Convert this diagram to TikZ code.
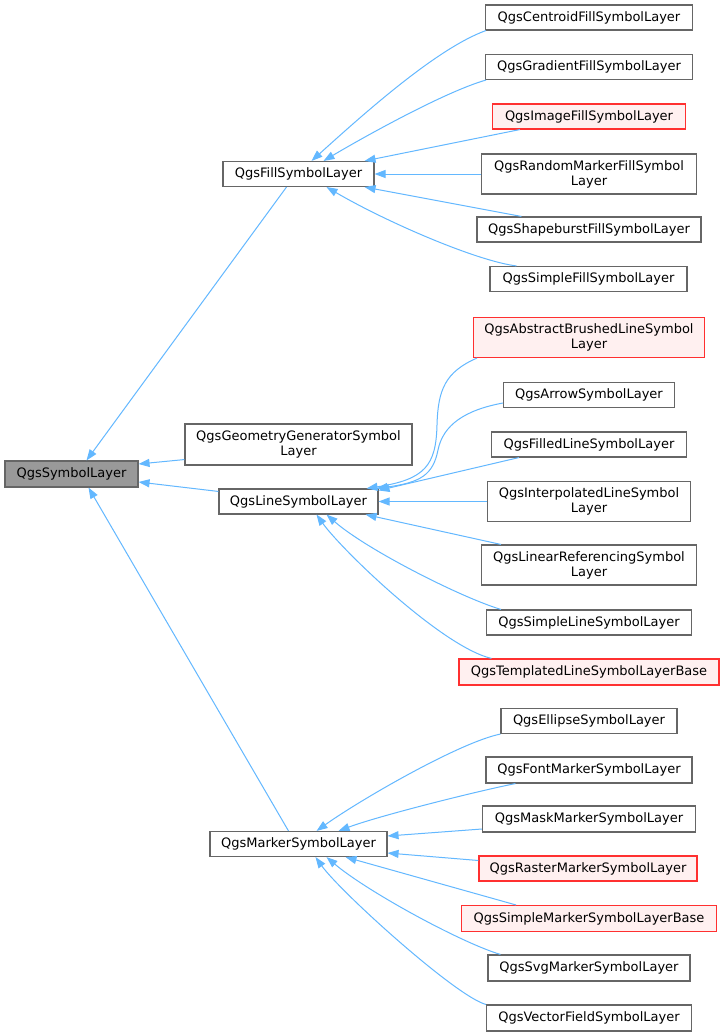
\documentclass[tikz,border=0pt]{standalone}
\usepackage{fontspec}
\setmainfont{DejaVu Sans}
\usetikzlibrary{arrows.meta}
\definecolor{edgec}{HTML}{63B8FF}
\definecolor{bordc}{HTML}{666666}
\definecolor{redfill}{HTML}{FFF0F0}
\definecolor{grayfill}{HTML}{999999}
\definecolor{redborder}{HTML}{FF3030}
\begin{document}
\begin{tikzpicture}[x=1pt,y=-1pt,
 cls/.style={draw=bordc, line width=1.1pt, fill=white, rectangle, inner sep=0pt, align=center, font=\fontsize{13}{15}\selectfont},
 redcls/.style={cls, draw=redborder, fill=redfill},
 basecls/.style={cls, fill=grayfill},
 edge/.style={draw=edgec, line width=1pt, -{Triangle[length=11pt,width=8pt]}},
]
\fill[white] (0,0) rectangle (724,1036);
\useasboundingbox (0,0) rectangle (724,1036);

% middle / left column
\node[basecls, minimum width=133pt, minimum height=26pt] (sym) at (71.5,474) {QgsSymbolLayer};
\node[cls, minimum width=151pt, minimum height=25pt] (fill) at (298.5,174) {QgsFillSymbolLayer};
\node[cls, minimum width=227pt, minimum height=41pt] (geom) at (298.5,444.5) {QgsGeometryGeneratorSymbol\\Layer};
\node[cls, minimum width=159pt, minimum height=25pt] (line) at (298.5,501.5) {QgsLineSymbolLayer};
\node[cls, minimum width=177pt, minimum height=25pt] (marker) at (298.5,844) {QgsMarkerSymbolLayer};

% right column
\node[cls, minimum width=207pt, minimum height=25pt] (centroid) at (589,17.5) {QgsCentroidFillSymbolLayer};
\node[cls, minimum width=207pt, minimum height=25pt] (gradient) at (589,67) {QgsGradientFillSymbolLayer};
\node[redcls, minimum width=193pt, minimum height=25pt] (image) at (589,116.5) {QgsImageFillSymbolLayer};
\node[cls, minimum width=215pt, minimum height=40pt] (random) at (589,174) {QgsRandomMarkerFillSymbol\\Layer};
\node[cls, minimum width=224pt, minimum height=25pt] (shapeburst) at (589,229.5) {QgsShapeburstFillSymbolLayer};
\node[cls, minimum width=197pt, minimum height=25pt] (simplefill) at (588.5,279) {QgsSimpleFillSymbolLayer};
\node[redcls, minimum width=231pt, minimum height=40pt] (abstract) at (589,337.5) {QgsAbstractBrushedLineSymbol\\Layer};
\node[cls, minimum width=171pt, minimum height=25pt] (arrow) at (589,395) {QgsArrowSymbolLayer};
\node[cls, minimum width=195pt, minimum height=25pt] (filled) at (589,444.5) {QgsFilledLineSymbolLayer};
\node[cls, minimum width=203pt, minimum height=40pt] (interp) at (589,501.5) {QgsInterpolatedLineSymbol\\Layer};
\node[cls, minimum width=215pt, minimum height=40pt] (linref) at (589,565) {QgsLinearReferencingSymbol\\Layer};
\node[cls, minimum width=205pt, minimum height=25pt] (simpleline) at (589,622.5) {QgsSimpleLineSymbolLayer};
\node[redcls, minimum width=260pt, minimum height=26pt] (templated) at (589,672) {QgsTemplatedLineSymbolLayerBase};
\node[cls, minimum width=176pt, minimum height=25pt] (ellipse) at (589,721) {QgsEllipseSymbolLayer};
\node[cls, minimum width=206pt, minimum height=26pt] (font) at (589,770) {QgsFontMarkerSymbolLayer};
\node[cls, minimum width=213pt, minimum height=26pt] (mask) at (589,819) {QgsMaskMarkerSymbolLayer};
\node[redcls, minimum width=218pt, minimum height=25pt] (raster) at (588,868.5) {QgsRasterMarkerSymbolLayer};
\node[redcls, minimum width=255pt, minimum height=26pt] (smb) at (589,918.5) {QgsSimpleMarkerSymbolLayerBase};
\node[cls, minimum width=202pt, minimum height=26pt] (svg) at (589,968) {QgsSvgMarkerSymbolLayer};
\node[cls, minimum width=205pt, minimum height=26pt] (vector) at (589,1018) {QgsVectorFieldSymbolLayer};

% bend points
\coordinate (abbend) at (437,425);
\coordinate (arbend) at (438,450);

% fill children
\draw[edge] ([xshift=1pt]centroid.south west) .. controls +(-50,18) and +(50,-45) .. ([xshift=13pt]fill.north);
\draw[edge] ([xshift=1pt]gradient.south west) .. controls +(-42,12) and +(37,-22) .. ([xshift=25pt]fill.north);
\draw[edge] ([xshift=28pt]image.south west) -- ([xshift=-10pt]fill.north east);
\draw[edge] (random.west) -- (fill.east);
\draw[edge] ([xshift=45pt]shapeburst.north west) -- ([xshift=-10pt]fill.south east);
\draw[edge] ([xshift=27pt]simplefill.north west) .. controls +(-40,-5) and +(60,35) .. ([xshift=28pt]fill.south);

% to base
\draw[edge] ([xshift=-12pt]fill.south) -- ([xshift=15pt]sym.north);
\draw[edge] ([yshift=6pt]geom.south west) -- ([yshift=10pt]sym.east);
\draw[edge] ([yshift=-3pt]line.north west) -- ([yshift=-8pt]sym.east);
\draw[edge] ([xshift=-10pt]marker.north) -- ([xshift=17pt]sym.south);

% line children
\draw[edge] ([xshift=4pt]abstract.south west) .. controls +(-32,14) and +(1,-35) .. (abbend) .. controls +(-1,40) and +(59,-9) .. ([xshift=-12pt]line.north east);
\draw[edge] ([yshift=-8pt]arrow.west) .. controls +(-38,7) and +(5,-25) .. (arbend) .. controls +(-5,25) and +(44,-6) .. ([xshift=-2pt]line.north east);
\draw[edge] ([xshift=28pt]filled.south west) -- ([yshift=-2pt]line.north east);
\draw[edge] (interp.west) -- (line.east);
\draw[edge] ([xshift=20pt]linref.north west) -- ([xshift=-13pt]line.south east);
\draw[edge] ([xshift=15pt]simpleline.north west) .. controls +(-40,-12) and +(40,35) .. ([xshift=28pt]line.south);
\draw[edge] ([xshift=33pt]templated.north west) .. controls +(-50,-12) and +(25,35) .. ([xshift=18pt]line.south);

% marker children
\draw[edge] (ellipse.south west) .. controls +(-40,8) and +(45,-32) .. ([xshift=18pt]marker.north);
\draw[edge] ([xshift=30pt]font.south west) .. controls +(-40,8) and +(40,-15) .. ([xshift=40pt]marker.north);
\draw[edge] ([yshift=-10pt]mask.west) -- ([yshift=8pt]marker.east);
\draw[edge] ([yshift=8pt]raster.west) -- ([yshift=-9pt]marker.east);
\draw[edge] ([xshift=55pt]smb.north west) -- ([xshift=47pt]marker.south);
\draw[edge] ([xshift=13pt]svg.north west) .. controls +(-40,-12) and +(40,34) .. ([xshift=28pt]marker.south);
\draw[edge] (vector.north west) .. controls +(-30,-8) and +(25,35) .. ([xshift=17pt]marker.south);
\end{tikzpicture}
\end{document}
